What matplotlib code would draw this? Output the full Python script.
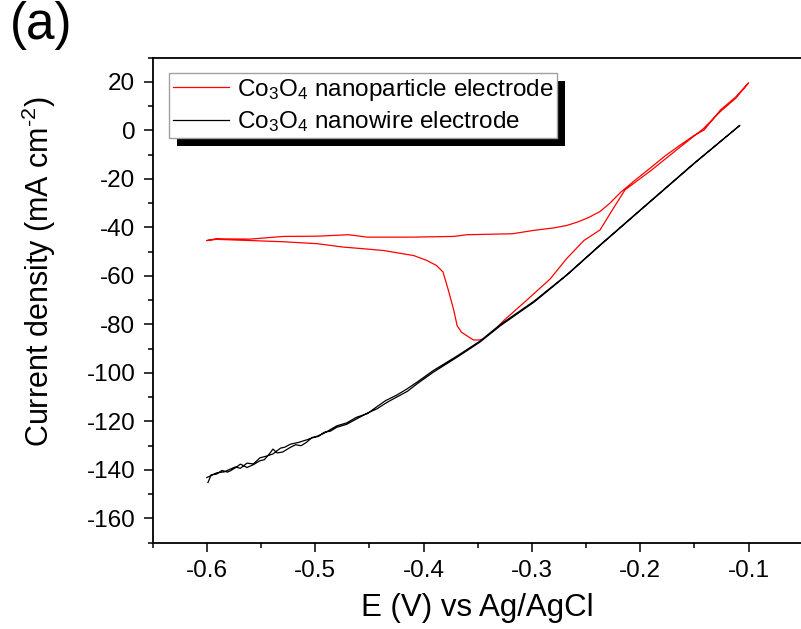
import matplotlib
matplotlib.use("Agg")
import matplotlib.pyplot as plt
from matplotlib.patches import Rectangle
from matplotlib.transforms import IdentityTransform
import numpy as np

plt.rcParams['font.family'] = ['Liberation Sans', 'DejaVu Sans']
plt.rcParams['mathtext.fontset'] = 'custom'
plt.rcParams['mathtext.rm'] = 'Liberation Sans'
plt.rcParams['mathtext.it'] = 'Liberation Sans'
plt.rcParams['axes.unicode_minus'] = False

# Co3O4 nanoparticle electrode (one CV loop)
np_E = [-0.600, -0.592, -0.560, -0.529, -0.498, -0.469, -0.452, -0.412, -0.372,
        -0.360, -0.318, -0.298, -0.280, -0.268, -0.258, -0.248, -0.237, -0.228,
        -0.218, -0.205, -0.191, -0.177, -0.163, -0.150, -0.141, -0.126, -0.112,
        -0.100,
        -0.112, -0.126, -0.142, -0.163, -0.190, -0.214, -0.226, -0.237, -0.252,
        -0.268, -0.283, -0.305, -0.326, -0.332, -0.345, -0.348, -0.354, -0.365,
        -0.369, -0.372, -0.377, -0.382, -0.388, -0.397, -0.409, -0.425, -0.437,
        -0.455, -0.474, -0.498, -0.529, -0.560, -0.591, -0.600]
np_j = [-45.4, -44.7, -44.8, -43.7, -43.6, -43.0, -44.0, -44.0, -43.7,
        -43.0, -42.6, -41.2, -40.2, -39.2, -37.8, -36.0, -33.4, -30.0,
        -25.5, -20.6, -15.6, -10.5, -6.0, -2.0, 0.2, 8.4, 13.7,
        19.6,
        13.2, 7.8, 0.6, -6.8, -16.5, -24.5, -33.0, -41.0, -45.4,
        -52.9, -61.2, -70.1, -78.4, -81.2, -86.0, -86.4, -86.4, -83.2,
        -80.5, -74.3, -66.0, -58.4, -55.7, -53.6, -51.6, -50.4, -49.5,
        -48.8, -48.1, -46.7, -45.9, -45.4, -44.9, -45.4]

# Co3O4 nanowire electrode, forward and reverse sweeps
nw_E_fwd = [-0.599, -0.596, -0.591, -0.586, -0.581, -0.578, -0.572, -0.569, -0.563,
            -0.557, -0.551, -0.547, -0.542, -0.539, -0.535, -0.530, -0.523, -0.518,
            -0.513, -0.508, -0.503, -0.497, -0.492, -0.486, -0.480, -0.471, -0.462,
            -0.452, -0.443, -0.434, -0.425, -0.415, -0.406, -0.391, -0.369, -0.348,
            -0.329, -0.298, -0.268, -0.237, -0.200, -0.150, -0.108]
nw_j_fwd = [-145.2, -142.0, -141.7, -140.2, -140.9, -140.3, -138.6, -137.6, -139.0,
            -137.8, -136.2, -135.8, -133.2, -131.4, -133.0, -132.6, -130.7, -129.6,
            -130.0, -128.6, -126.6, -126.2, -124.5, -124.0, -122.4, -121.2, -119.0,
            -116.6, -114.8, -112.2, -110.0, -107.6, -104.5, -99.7, -93.5, -87.3,
            -80.5, -70.8, -59.8, -47.4, -33.0, -13.6, 2.1]
nw_E_rev = [-0.108, -0.150, -0.200, -0.237, -0.268, -0.298, -0.329, -0.348, -0.369,
            -0.391, -0.406, -0.416, -0.425, -0.435, -0.443, -0.452, -0.462, -0.471,
            -0.480, -0.487, -0.492, -0.500, -0.508, -0.515, -0.523, -0.528, -0.532,
            -0.539, -0.545, -0.551, -0.557, -0.563, -0.569, -0.574, -0.578, -0.584,
            -0.591, -0.596, -0.600]
nw_j_rev = [2.1, -13.4, -32.8, -47.2, -59.6, -70.4, -80.0, -86.9, -93.0,
            -99.0, -103.8, -106.8, -109.2, -111.4, -113.9, -116.8, -118.3, -120.6,
            -121.8, -123.6, -124.9, -126.4, -127.6, -128.6, -129.4, -130.6, -131.0,
            -133.4, -134.3, -135.0, -137.5, -137.2, -139.3, -138.8, -139.6, -140.8,
            -141.2, -142.3, -143.1]

fig = plt.figure(figsize=(8.01, 6.29), dpi=100)
ax = fig.add_axes([152.7 / 801, (629 - 542.7) / 629, 650 / 801, 485 / 629])

ax.plot(np_E, np_j, color='#ff0000', lw=0.9,
        label=r'Co$_3$O$_4$ nanoparticle electrode')
ax.plot(nw_E_fwd + nw_E_rev, nw_j_fwd + nw_j_rev, color='black', lw=0.9,
        label=r'Co$_3$O$_4$ nanowire electrode')

ax.set_xlim(-0.65, -0.05)
ax.set_ylim(-170, 30)
ax.set_xticks(np.arange(-0.6, -0.05, 0.1))
ax.set_xticklabels(['-0.6', '-0.5', '-0.4', '-0.3', '-0.2', '-0.1'])
ax.set_xticks(np.arange(-0.65, -0.04, 0.05), minor=True)
ax.set_yticks(np.arange(-160, 21, 20))
ax.set_yticklabels([str(v) for v in range(-160, 21, 20)])
ax.set_yticks(np.arange(-170, 31, 10), minor=True)
ax.tick_params(which='both', direction='out', width=1.1, labelsize=17.5,
               top=False, right=False)
ax.tick_params(which='major', length=6.5, pad=6)
ax.tick_params(which='minor', length=3.5)
for s in ax.spines.values():
    s.set_linewidth(1.3)

ax.set_xlabel('E (V) vs Ag/AgCl', fontsize=22.5, labelpad=8)
ax.set_ylabel(r'Current density (mA cm$^{\text{-2}}$)', fontsize=22)
ax.yaxis.set_label_coords(-0.145, 0.56)

leg = ax.legend(loc='upper left', fontsize=17.5, frameon=True,
                fancybox=False, borderpad=0.15, labelspacing=0.25,
                handlelength=2.3, handletextpad=0.35, borderaxespad=0,
                framealpha=1)
leg.set_bbox_to_anchor(((169 - 152.7) / 650, 1 - (73.3 - 57.7) / 485), transform=ax.transAxes)
leg.get_frame().set_edgecolor('#a0a0a0')
leg.get_frame().set_facecolor('white')
leg.get_frame().set_linewidth(1.0)

# solid black drop shadow behind the legend box
fig.canvas.draw()
bb = leg.get_window_extent()
shadow = Rectangle((bb.x0 + 8, bb.y0 - 8), bb.width, bb.height, transform=IdentityTransform(),
                   facecolor='black', edgecolor='none', zorder=4.9, clip_on=False)
ax.add_patch(shadow)

fig.text(10 / 801, 1 - 1 / 629, '(a)', fontsize=37, ha='left', va='top')

fig.savefig('out.png', dpi=100)
